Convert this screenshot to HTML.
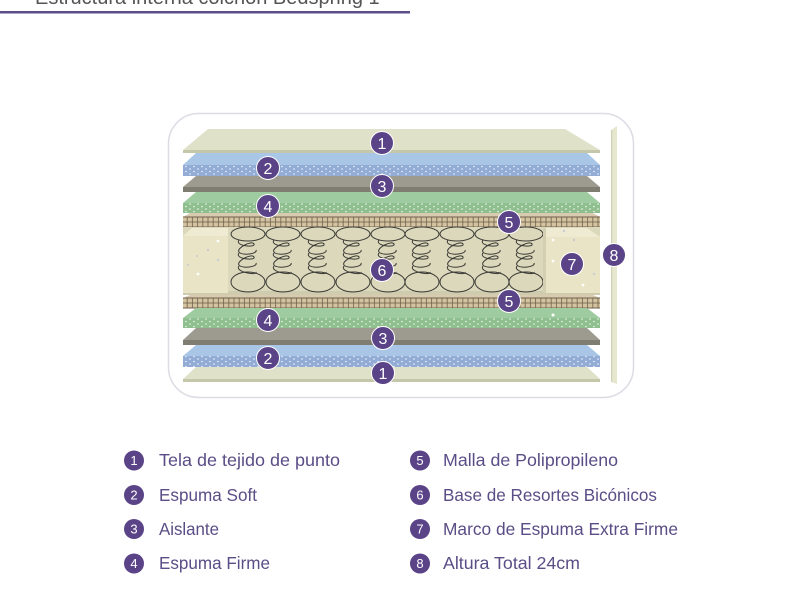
<!DOCTYPE html>
<html><head><meta charset="utf-8"><style>
html,body{margin:0;padding:0;background:#fff;}
svg{display:block;}
</style></head><body>
<svg width="800" height="600" viewBox="0 0 800 600" xmlns="http://www.w3.org/2000/svg" font-family="Liberation Sans, sans-serif">
<defs>
<pattern id="dotsB" width="8" height="5" patternUnits="userSpaceOnUse">
<rect width="8" height="5" fill="#92acd5"/>
<circle cx="2" cy="1.5" r="0.8" fill="#fff" opacity="0.85"/>
<circle cx="6" cy="4" r="0.8" fill="#fff" opacity="0.85"/>
</pattern>
<pattern id="dotsG" width="8" height="5" patternUnits="userSpaceOnUse">
<rect width="8" height="5" fill="#8fbf8f"/>
<circle cx="2" cy="1.5" r="0.8" fill="#fff" opacity="0.85"/>
<circle cx="6" cy="4" r="0.8" fill="#fff" opacity="0.85"/>
</pattern>
<pattern id="mesh" width="5.2" height="5" patternUnits="userSpaceOnUse" y="217">
<rect width="5.2" height="5" fill="#d3c3a0" stroke="#6f604c" stroke-width="0.8"/>
</pattern>
<pattern id="mesh2" width="5.2" height="5" patternUnits="userSpaceOnUse" y="298">
<rect width="5.2" height="5" fill="#d3c3a0" stroke="#6f604c" stroke-width="0.8"/>
</pattern>
<g id="spring" fill="none" stroke="#3a3a36" stroke-width="1">
<ellipse cx="0" cy="234" rx="17" ry="7"/>
<path d="M-9,240 C-14,246 8,248 6,244 C4,240 -12,248 -9,252 C-6,256 10,254 8,250"/>
<path d="M-9,253 C-14,259 8,261 6,257 C4,253 -12,261 -9,265 C-6,269 10,267 8,263"/>
<path d="M-9,266 C-14,272 10,276 8,272"/>
<ellipse cx="0" cy="282" rx="17" ry="10"/>
</g>
</defs>

<!-- title -->
<text x="35" y="4" font-size="20" fill="#555">Estructura interna colchón Bedspring 1</text>
<rect x="0" y="11" width="410" height="2.5" fill="#5e4d8c"/>

<!-- frame -->
<rect x="168.5" y="113.5" width="465" height="284" rx="30" ry="30" fill="#fff" stroke="#dcdce4" stroke-width="1.5"/>

<!-- height bar 8 -->
<path d="M611,130 L617,126 L617,384 L611,382 Z" fill="#e6e7cf"/>
<rect x="611" y="130" width="1.2" height="252" fill="#cfd1b4"/>

<!-- top layer 1 beige -->
<polygon points="208,129 565,129 600,150 183,150" fill="#dfe1c9"/>
<rect x="183" y="150" width="417" height="3" fill="#c5c7ab"/>
<!-- layer 2 blue -->
<polygon points="196,153 587,153 600,165 183,165" fill="#a9c6e7"/>
<rect x="183" y="165" width="417" height="11" fill="url(#dotsB)"/>
<!-- layer 3 gray -->
<polygon points="196,176 587,176 600,187 183,187" fill="#9d9b8f"/>
<rect x="183" y="187" width="417" height="5" fill="#7f7d72"/>
<!-- layer 4 green -->
<polygon points="196,192 587,192 600,203 183,203" fill="#9ecb9f"/>
<rect x="183" y="203" width="417" height="10" fill="url(#dotsG)"/>
<!-- mesh 5 top -->
<polygon points="190,213 593,213 600,217 183,217" fill="#d8cbaf"/>
<rect x="183" y="217" width="417" height="10" fill="url(#mesh)"/>
<rect x="183" y="216.5" width="417" height="1" fill="#6f604c"/>
<rect x="183" y="226.5" width="417" height="1" fill="#6f604c"/>

<!-- spring area -->
<rect x="183" y="227" width="417" height="68" fill="#dcd8bb"/>
<rect x="183" y="291" width="417" height="4" fill="#cfcbae"/>
<!-- left foam block -->
<polygon points="183,236 192,228 228,228 228,236" fill="#efebd2"/>
<rect x="183" y="236" width="45" height="57" fill="#e8e4c5"/>
<circle cx="218" cy="241" r="1.4" fill="#fff"/>
<circle cx="208" cy="250" r="1.2" fill="#c9cbd3"/>
<circle cx="218" cy="260" r="1.2" fill="#c9cbd3"/>
<circle cx="197" cy="256" r="1" fill="#c9cbd3"/>
<circle cx="188" cy="265" r="1" fill="#c9cbd3"/>
<circle cx="198" cy="274" r="1.4" fill="#fff"/>
<!-- springs -->
<use href="#spring" x="248"/>
<use href="#spring" x="283"/>
<use href="#spring" x="318"/>
<use href="#spring" x="353"/>
<use href="#spring" x="388"/>
<use href="#spring" x="422"/>
<use href="#spring" x="457"/>
<use href="#spring" x="492"/>
<use href="#spring" x="526"/>
<!-- right foam block -->
<polygon points="545,228 587,228 600,237 545,237" fill="#efebd2"/>
<rect x="545" y="237" width="55" height="56" fill="#e8e4c5"/>
<rect x="543" y="228" width="3" height="65" fill="#d3cfb2"/>
<circle cx="564" cy="231" r="1.2" fill="#c9cbd3"/>
<circle cx="553" cy="240" r="1.4" fill="#fff"/>
<circle cx="574" cy="240" r="1.2" fill="#c9cbd3"/>
<circle cx="553" cy="261" r="1.4" fill="#fff"/>
<circle cx="594" cy="274" r="1.2" fill="#c9cbd3"/>
<circle cx="583" cy="285" r="1.4" fill="#fff"/>

<!-- mesh 5 bottom -->
<polygon points="190,295 593,295 600,298 183,298" fill="#d8cbaf"/>
<rect x="183" y="298" width="417" height="10" fill="url(#mesh2)"/>
<rect x="183" y="297.5" width="417" height="1" fill="#6f604c"/>
<rect x="183" y="307.5" width="417" height="1" fill="#6f604c"/>
<!-- bottom layer 4 green -->
<polygon points="196,308 587,308 600,318 183,318" fill="#9ecb9f"/>
<rect x="183" y="318" width="417" height="10" fill="url(#dotsG)"/>
<circle cx="553" cy="315" r="1.5" fill="#fff"/>
<!-- bottom layer 3 gray -->
<polygon points="196,328 587,328 600,340 183,340" fill="#9d9b8f"/>
<rect x="183" y="340" width="417" height="5" fill="#7f7d72"/>
<!-- bottom layer 2 blue -->
<polygon points="196,345 587,345 600,356 183,356" fill="#a9c6e7"/>
<rect x="183" y="356" width="417" height="11" fill="url(#dotsB)"/>
<!-- bottom layer 1 beige -->
<polygon points="196,367 587,367 600,379 183,379" fill="#dfe1c9"/>
<rect x="183" y="379" width="417" height="3" fill="#c5c7ab"/>

<!-- diagram badges -->
<g fill="#5a4487" stroke="#fff" stroke-width="1">
<circle cx="382" cy="143" r="11.5"/>
<circle cx="268" cy="168" r="11.5"/>
<circle cx="382" cy="186" r="11.5"/>
<circle cx="268" cy="206" r="11.5"/>
<circle cx="509" cy="222" r="11.5"/>
<circle cx="382" cy="270" r="11.5"/>
<circle cx="572" cy="264" r="11.5"/>
<circle cx="614" cy="255" r="11.5"/>
<circle cx="509" cy="301" r="11.5"/>
<circle cx="268" cy="320" r="11.5"/>
<circle cx="383" cy="338" r="11.5"/>
<circle cx="268" cy="358" r="11.5"/>
<circle cx="383" cy="373" r="11.5"/>
</g>
<g fill="#fff" font-size="16" text-anchor="middle">
<text x="382" y="149">1</text>
<text x="268" y="174">2</text>
<text x="382" y="192">3</text>
<text x="268" y="212">4</text>
<text x="509" y="228">5</text>
<text x="382" y="276">6</text>
<text x="572" y="270">7</text>
<text x="614" y="261">8</text>
<text x="509" y="307">5</text>
<text x="268" y="326">4</text>
<text x="383" y="344">3</text>
<text x="268" y="364">2</text>
<text x="383" y="379">1</text>
</g>

<!-- legend -->
<g fill="#5a4487">
<circle cx="134" cy="460.5" r="10"/>
<circle cx="134" cy="495" r="10"/>
<circle cx="134" cy="529" r="10"/>
<circle cx="134" cy="563.5" r="10"/>
<circle cx="420" cy="460.5" r="10"/>
<circle cx="420" cy="495" r="10"/>
<circle cx="420" cy="529" r="10"/>
<circle cx="420" cy="563.5" r="10"/>
</g>
<g fill="#fff" font-size="13" text-anchor="middle">
<text x="134" y="465">1</text>
<text x="134" y="499.5">2</text>
<text x="134" y="533.5">3</text>
<text x="134" y="568">4</text>
<text x="420" y="465">5</text>
<text x="420" y="499.5">6</text>
<text x="420" y="533.5">7</text>
<text x="420" y="568">8</text>
</g>
<g fill="#5b4d86" font-size="17.5">
<text x="159" y="466" textLength="181" lengthAdjust="spacingAndGlyphs">Tela de tejido de punto</text>
<text x="159" y="501" textLength="98" lengthAdjust="spacingAndGlyphs">Espuma Soft</text>
<text x="159" y="535" textLength="60" lengthAdjust="spacingAndGlyphs">Aislante</text>
<text x="159" y="569" textLength="111" lengthAdjust="spacingAndGlyphs">Espuma Firme</text>
<text x="443" y="466" textLength="175" lengthAdjust="spacingAndGlyphs">Malla de Polipropileno</text>
<text x="443" y="501" textLength="214" lengthAdjust="spacingAndGlyphs">Base de Resortes Bicónicos</text>
<text x="443" y="535" textLength="235" lengthAdjust="spacingAndGlyphs">Marco de Espuma Extra Firme</text>
<text x="443" y="569" textLength="137" lengthAdjust="spacingAndGlyphs">Altura Total 24cm</text>
</g>
</svg>
</body></html>
